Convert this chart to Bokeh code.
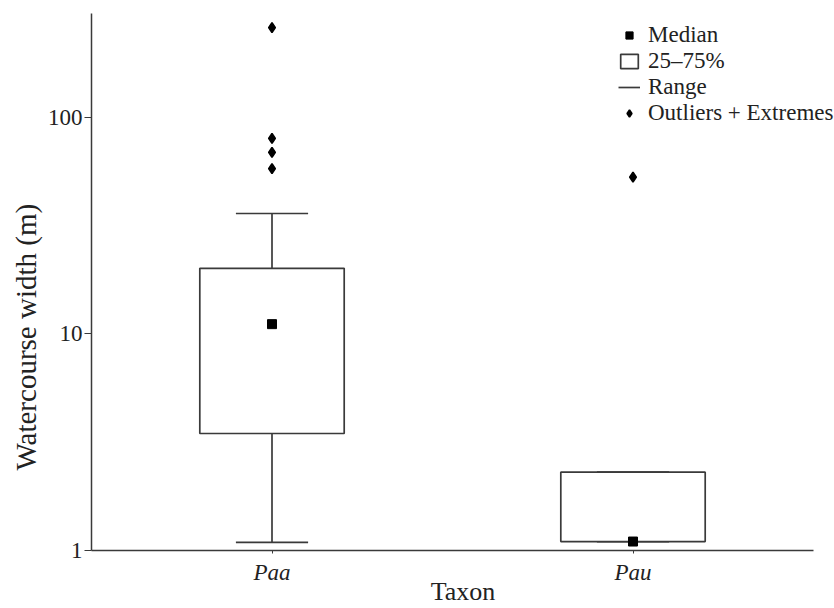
from bokeh.plotting import figure
from bokeh.models import (ColumnDataSource, Range1d, FixedTicker, Legend, LegendItem,
                          Title)
from bokeh.embed import file_html
from bokeh.resources import INLINE

# ---- data ----
taxa = ["Paa", "Pau"]
q1 = [3.47, 1.10]
q3 = [20.1, 2.3]
medians = [11.1, 1.10]
range_low = [1.09, 1.10]
range_high = [36.0, 2.3]
out_taxon = ["Paa", "Paa", "Paa", "Paa", "Pau"]
out_values = [260, 80, 69, 58, 53]
y_ticks = [1, 10, 100]
y_tick_labels = ["1", "10", "100"]
y_top = 302

FONT = "Liberation Serif"
LINE = "#3a3a3a"
TEXT = "#222222"

# category -> position on a numeric axis (category i sits at i + 0.5)
pos = {t: i + 0.5 for i, t in enumerate(taxa)}
x_box = [pos[t] for t in taxa]
x_out = [pos[t] for t in out_taxon]
BOX_W = 0.4
CAP_W = 0.2

box_src = ColumnDataSource(dict(x=x_box, q1=q1, q3=q3, med=medians, lo=range_low, hi=range_high,
                                cl=[v - CAP_W / 2 for v in x_box], cr=[v + CAP_W / 2 for v in x_box]))
out_src = ColumnDataSource(dict(x=x_out, v=out_values))

W, H = 834, 608
LEFT, RIGHT_AXIS_END, TOP, BOTTOM = 91, 813, 13, 58
n = len(taxa)
# frame runs to the right edge (so the legend is not clipped); the axis line stops at n
x_end = n * (W - LEFT) / (RIGHT_AXIS_END - LEFT)

p = figure(width=W, height=H, x_range=Range1d(0, x_end),
           y_range=Range1d(1, y_top), y_axis_type="log",
           output_backend="svg", toolbar_location=None,
           min_border_left=LEFT, min_border_right=0, min_border_top=TOP, min_border_bottom=BOTTOM)
p.outline_line_color = None
p.xgrid.grid_line_color = None
p.ygrid.grid_line_color = None
p.background_fill_color = "white"

LW = 1.7
p.segment(x0="x", y0="lo", x1="x", y1="q1", source=box_src, line_color=LINE, line_width=LW)
p.segment(x0="x", y0="q3", x1="x", y1="hi", source=box_src, line_color=LINE, line_width=LW)
p.segment(x0="cl", y0="lo", x1="cr", y1="lo", source=box_src, line_color=LINE, line_width=LW)
cap_hi = p.segment(x0="cl", y0="hi", x1="cr", y1="hi", source=box_src,
                   line_color=LINE, line_width=LW)
boxes = p.vbar(x="x", width=BOX_W, bottom="q1", top="q3", source=box_src,
               fill_color="white", line_color=LINE, line_width=LW)
meds = p.scatter(x="x", y="med", source=box_src, marker="square", size=9,
                 fill_color="black", line_color="black")
outs = p.scatter(x="x", y="v", source=out_src, marker="diamond",
                 size=10, line_width=1.6, fill_color="black", line_color="black")

ya = p.yaxis[0]
ya.ticker = FixedTicker(ticks=y_ticks, minor_ticks=[])
ya.major_label_overrides = {t: l for t, l in zip(y_ticks, y_tick_labels)}
ya.major_label_text_font = FONT
ya.major_label_text_font_size = "23px"
ya.major_label_text_color = TEXT
ya.major_label_standoff = 2
ya.major_tick_out = 7
ya.major_tick_in = 0
ya.minor_tick_out = 0
ya.minor_tick_in = 0
ya.axis_line_color = LINE
ya.axis_line_width = 1.5
ya.major_tick_line_color = LINE
ya.major_tick_line_width = 1.2

ytitle = Title(text="Watercourse width (m)", align="left", offset=80,
               text_font=FONT, text_font_size="29px", text_font_style="normal",
               text_color=TEXT, standoff=6)
p.add_layout(ytitle, "left")

xa = p.xaxis[0]
xa.ticker = FixedTicker(ticks=x_box, minor_ticks=[])
xa.major_label_overrides = {pos[t]: t for t in taxa}
xa.bounds = (0, n)
xa.axis_label = "Taxon"
xa.axis_label_text_font = FONT
xa.axis_label_text_font_size = "26px"
xa.axis_label_text_font_style = "normal"
xa.axis_label_text_color = TEXT
xa.axis_label_standoff = -11
xa.major_label_text_font = FONT
xa.major_label_text_font_size = "23px"
xa.major_label_text_font_style = "italic"
xa.major_label_text_color = TEXT
xa.major_label_standoff = 6
xa.major_tick_out = 3
xa.major_tick_in = 0
xa.minor_tick_out = 0
xa.minor_tick_in = 0
xa.axis_line_color = LINE
xa.axis_line_width = 1.5
xa.major_tick_line_color = LINE

legend = Legend(items=[
    LegendItem(label="Median", renderers=[meds]),
    LegendItem(label="25\u201375%", renderers=[boxes]),
    LegendItem(label="Range", renderers=[cap_hi]),
    LegendItem(label="Outliers + Extremes", renderers=[outs]),
], location=(527, 424))
legend.padding = 0
legend.margin = 0
legend.spacing = -4
legend.glyph_width = 22
legend.glyph_height = 18
legend.label_height = 18
legend.label_standoff = 8
legend.label_text_font = FONT
legend.label_text_font_size = "23px"
legend.label_text_color = TEXT
legend.background_fill_alpha = 0
legend.border_line_alpha = 0
p.add_layout(legend)

open("out.html", "w").write(file_html(p, INLINE))
